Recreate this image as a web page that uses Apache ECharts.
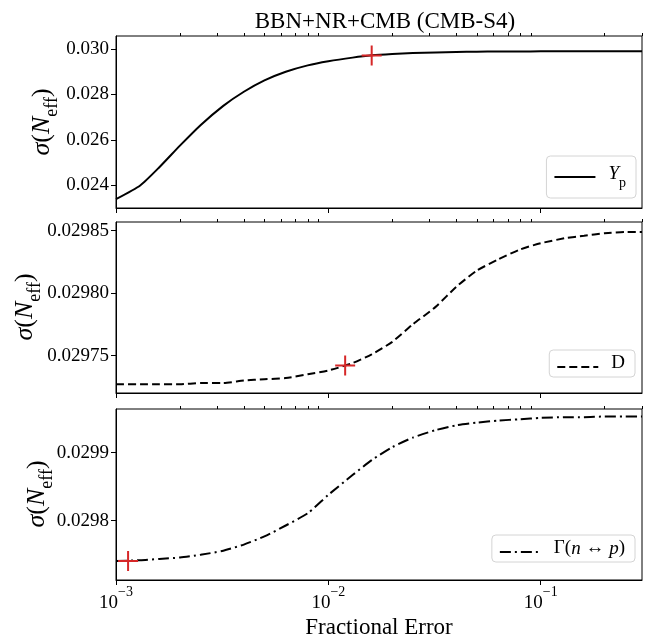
<!DOCTYPE html>
<html style="height: 100%">
  <head>
    <meta charset="UTF-8" />
    <title>sigma Neff</title>
    <script src="https://cdn.jsdelivr.net/npm/echarts@6/dist/echarts.min.js"></script>
  </head>
  <body style="height: 100%; margin: 0; background-color: #fff">
    <div id="main" style="width: 646px; height: 642px"></div>
    <script type="text/javascript">
      // fractional error grid (x)
      var fracErr = [
        0.001, 0.0013, 0.0016, 0.002, 0.0025, 0.0032, 0.004, 0.005, 0.0063,
        0.008, 0.01, 0.013, 0.016, 0.02, 0.025, 0.032, 0.04, 0.05, 0.063, 0.08,
        0.1, 0.13, 0.16, 0.2, 0.25, 0.3,
      ];
      // sigma(Neff) for Yp
      var sigYp = [
        0.0234, 0.024, 0.0248, 0.02575, 0.02665, 0.0275, 0.02812, 0.02862,
        0.029, 0.02928, 0.02946, 0.02962, 0.02972, 0.02978, 0.02982, 0.02985,
        0.02987, 0.02988, 0.02989, 0.02989, 0.0299, 0.0299, 0.0299, 0.0299,
        0.0299, 0.0299,
      ];
      // sigma(Neff) for D
      var sigD = [
        0.029727, 0.029727, 0.029727, 0.029727, 0.029728, 0.029728, 0.02973,
        0.029731, 0.029732, 0.029735, 0.029738, 0.029744, 0.029751, 0.029761,
        0.029775, 0.029789, 0.029805, 0.029818, 0.029827, 0.029835, 0.02984,
        0.029844, 0.029846, 0.029848, 0.029849, 0.029849,
      ];
      // sigma(Neff) for Gamma(n<->p)
      var sigG = [
        0.029741, 0.029742, 0.029744, 0.029746, 0.02975, 0.029756, 0.029765,
        0.029777, 0.029793, 0.029811, 0.029838, 0.029867, 0.029889, 0.029908,
        0.029922, 0.029933, 0.02994, 0.029944, 0.029947, 0.029949, 0.029951,
        0.029952, 0.029952, 0.029953, 0.029953, 0.029953,
      ];
      // current precision markers (red +)
      var markYp = [0.016, 0.02971];
      var markD = [0.012, 0.029742];
      var markG = [0.00114, 0.029741];

      var xMajor = [0.001, 0.01, 0.1];
      var xMinor = [
        0.002, 0.003, 0.004, 0.005, 0.006, 0.007, 0.008, 0.009, 0.02, 0.03,
        0.04, 0.05, 0.06, 0.07, 0.08, 0.09, 0.2, 0.3,
      ];
      var yTicks1 = [0.024, 0.026, 0.028, 0.03];
      var yTicks2 = [0.02975, 0.0298, 0.02985];
      var yTicks3 = [0.0298, 0.0299];

      var FONT = '"Liberation Serif", "DejaVu Serif", serif';
      var chart = echarts.init(document.getElementById("main"));

      function pairs(xs, ys) {
        return xs.map(function (x, i) {
          return [x, ys[i]];
        });
      }

      // y label sigma(N_eff), drawn as rotated rich text
      var yName = "{i|σ}{r|(}{i|N}{s|eff}{r|)}";
      var yNameRich = {
        i: { fontFamily: FONT, fontStyle: "italic", fontSize: 26, lineHeight: 32, verticalAlign: "top", fill: "#000", color: "#000" },
        r: { fontFamily: FONT, fontSize: 26, lineHeight: 32, verticalAlign: "top", fill: "#000", color: "#000" },
        s: { fontFamily: FONT, fontSize: 18, lineHeight: 16, verticalAlign: "bottom", fill: "#000", color: "#000" },
      };
      function yLabel(cx, cy) {
        return {
          type: "text",
          x: cx,
          y: cy,
          rotation: Math.PI / 2,
          style: {
            text: yName,
            rich: yNameRich,
            align: "center",
            verticalAlign: "middle",
          },
        };
      }

      function xAxes(idx, labels) {
        return [
          {
            type: "log",
            gridIndex: idx,
            min: 0.001,
            max: 0.3,
            axisLine: { show: true, lineStyle: { color: "#000", width: 1 } },
            splitLine: { show: false },
            axisTick: { customValues: xMajor, length: 5, lineStyle: { color: "#000" } },
            axisLabel: {
              show: labels,
              customValues: xMajor,
              margin: 5,
              formatter: function (v) {
                var e = Math.round(Math.log10(v));
                return "{b|10}{s|−" + Math.abs(e) + "}";
              },
              rich: {
                b: { fontFamily: FONT, fontSize: 19, lineHeight: 28, verticalAlign: "bottom", color: "#000" },
                s: { fontFamily: FONT, fontSize: 14, lineHeight: 14, verticalAlign: "top", color: "#000" },
              },
            },
            name: labels ? "Fractional Error" : "",
            nameLocation: "middle",
            nameGap: 36,
            nameTextStyle: { fontFamily: FONT, fontSize: 23, color: "#000" },
          },
          {
            type: "log",
            gridIndex: idx,
            min: 0.001,
            max: 0.3,
            axisLine: { show: false },
            splitLine: { show: false },
            axisTick: { customValues: xMinor, length: 3, lineStyle: { color: "#000" } },
            axisLabel: { show: false },
          },
        ];
      }

      function yAxis(idx, min, max, ticks, digits) {
        return {
          type: "value",
          gridIndex: idx,
          min: min,
          max: max,
          axisLine: { show: true, lineStyle: { color: "#000", width: 1 } },
          splitLine: { show: false },
          axisTick: { show: true, customValues: ticks, length: 5, lineStyle: { color: "#000" } },
          axisLabel: {
            customValues: ticks,
            margin: 7,
            fontFamily: FONT,
            fontSize: 19,
            color: "#000",
            formatter: function (v) {
              return v.toFixed(digits);
            },
          },
        };
      }

      function legendFor(name, top, right, padV) {
        return {
          data: [name],
          top: top,
          right: right,
          orient: "vertical",
          itemWidth: 41,
          itemHeight: 14,
          padding: [padV, 10, padV, 7],
          borderColor: "#d4d4d4",
          borderWidth: 1,
          borderRadius: 4,
          backgroundColor: "rgba(255,255,255,0.8)",
          itemStyle: { color: "transparent", borderWidth: 0, opacity: 0 },
          formatter: function (n) {
            if (n === "Yp") return "{gap|}{i|Y}{s|p}";
            if (n === "D") return "{gap|}{r|D}";
            return "{gap|}{r|Γ(}{i|n}{r| ↔ }{i|p}{r|)}";
          },
          textStyle: {
            rich: {
              gap: { width: 8 },
              i: { fontFamily: FONT, fontStyle: "italic", fontSize: 19, lineHeight: 26, verticalAlign: "top", color: "#000" },
              r: { fontFamily: FONT, fontSize: 19, lineHeight: 26, verticalAlign: "top", color: "#000" },
              s: { fontFamily: FONT, fontSize: 14, lineHeight: 14, verticalAlign: "bottom", color: "#000" },
            },
          },
        };
      }

      var plusSym = "path://M9,0H11V9H20V11H11V20H9V11H0V9H9Z";
      function lineSeries(name, idx, ys, dash) {
        return {
          name: name,
          type: "line",
          xAxisIndex: idx * 2,
          yAxisIndex: idx,
          data: pairs(fracErr, ys),
          showSymbol: false,
          symbol: "none",
          smooth: 0.2,
          lineStyle: { color: "#000", width: 2, type: dash },
          itemStyle: { color: "#000" },
          z: 2,
        };
      }
      function markSeries(idx, pt) {
        return {
          type: "scatter",
          xAxisIndex: idx * 2,
          yAxisIndex: idx,
          data: [pt],
          symbol: plusSym,
          symbolSize: 20,
          itemStyle: { color: "#d62728", opacity: 1 },
          z: 5,
        };
      }

      var option = {
        animation: false,
        backgroundColor: "#fff",
        title: {
          text: "BBN+NR+CMB (CMB-S4)",
          left: 380,
          top: 5,
          textAlign: "center",
          textStyle: { fontFamily: FONT, fontSize: 23, fontWeight: "normal", color: "#000" },
        },
        grid: [
          { left: 116, right: 4, top: 36, height: 172, show: true, borderColor: "#000", borderWidth: 1 },
          { left: 116, right: 4, top: 222, height: 171, show: true, borderColor: "#000", borderWidth: 1 },
          { left: 116, right: 4, top: 409, height: 171, show: true, borderColor: "#000", borderWidth: 1 },
        ],
        xAxis: [].concat(xAxes(0, false), xAxes(1, false), xAxes(2, true)),
        yAxis: [
          yAxis(0, 0.02301, 0.030571, yTicks1, 3),
          yAxis(1, 0.02972, 0.029857, yTicks2, 5),
          yAxis(2, 0.029713, 0.029964, yTicks3, 4),
        ],
        graphic: [yLabel(45, 122), yLabel(28, 307), yLabel(40, 494)],
        legend: [
          legendFor("Yp", 156, 10, 8),
          legendFor("D", 350, 11, 4),
          legendFor("Gnp", 535, 11, 4),
        ],
        series: [
          lineSeries("Yp", 0, sigYp, "solid"),
          lineSeries("D", 1, sigD, [8, 4]),
          lineSeries("Gnp", 2, sigG, [11, 4, 2, 4]),
          markSeries(0, markYp),
          markSeries(1, markD),
          markSeries(2, markG),
        ],
      };
      chart.setOption(option);
    </script>
  </body>
</html>
